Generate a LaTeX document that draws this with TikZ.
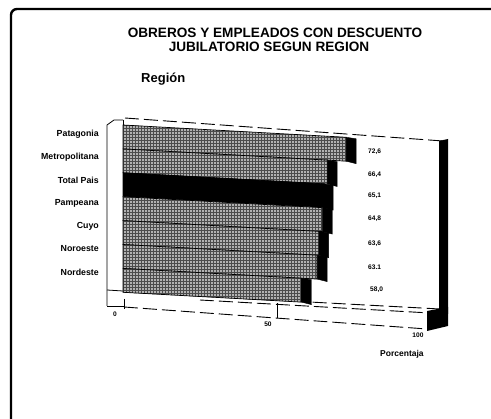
\documentclass[tikz,border=0pt]{standalone}
\usepackage{fontspec}
\setmainfont{Liberation Sans}
\usetikzlibrary{patterns}
\begin{document}
\begin{tikzpicture}[x=1pt,y=-1pt,
  lbl/.style={font=\bfseries\fontsize{8.8}{10}\selectfont, anchor=east, inner sep=0pt},
  val/.style={font=\bfseries\fontsize{6.6}{7}\selectfont, anchor=west, inner sep=0pt},
  axl/.style={font=\bfseries\fontsize{6.6}{7}\selectfont, inner sep=0pt},
  barface/.style={draw=black, line width=0.7pt},
  barside/.style={draw=black, fill=black},
  dsh/.style={dash pattern=on 14pt off 5pt, line width=0.9pt},
  edge/.style={line width=0.8pt}]
\useasboundingbox (0,0) rectangle (491,419);
% frame
\draw[line width=2.4pt, rounded corners=6pt] (11,425) -- (11,9) -- (497,9);
% titles
\node[font=\bfseries\fontsize{13.6}{15}\selectfont, inner sep=0pt] (t1) at (275,32.5) {OBREROS Y EMPLEADOS CON DESCUENTO};
\node[font=\bfseries\fontsize{13.6}{15}\selectfont, inner sep=0pt] (t2) at (269,47) {JUBILATORIO SEGUN REGION};
\node[font=\bfseries\fontsize{13}{15}\selectfont, inner sep=0pt, anchor=west] (reg) at (141,79) {Región};
% back wall top edge and right wall
\draw[dsh] (125,118) -- (443,141);
\fill (439,141) -- (448,139) -- (448,314) -- (439,316) -- cycle;
\fill (427,311) -- (448,307) -- (448,326) -- (427,331) -- cycle;
% left wall
\draw[edge] (107,306) -- (107,125) -- (114,120) -- (123,120);
\draw[edge] (123,120) -- (123,292);
\draw[edge] (107,290) -- (123,291);
\draw[edge] (107,306) -- (125,306);
% floor
\draw[dsh] (123,292) -- (440,309);
\draw[dsh] (200,300) -- (430,313);
\draw[dsh] (124,307) -- (427,329);
% ticks
\draw[edge] (124,299) -- (124,309);
\draw[edge] (277,303) -- (277,318);
% bars
\foreach \v/\c/\pc [count=\i from 0] in {72.6/black!30/black!70, 66.4/black!30/black!70, 65.1/black/black, 64.8/black!30/black!70, 63.6/black!30/black!70, 63.1/black!30/black!70, 58.0/black!30/black!70}{
  \pgfmathsetmacro{\yt}{125+23.9*\i}
  \pgfmathsetmacro{\yb}{\yt+23.9}
  \pgfmathsetmacro{\xr}{124+3.06*\v}
  \pgfmathsetmacro{\dy}{0.055*(\xr-123)}
  \draw[barside] (\xr,\yt+\dy) -- (\xr+10,\yt+\dy+1.5) -- (\xr+10,\yb+\dy+2.5) -- (\xr,\yb+\dy) -- cycle;
  \fill[\c] (123,\yt) -- (\xr,\yt+\dy) -- (\xr,\yb+\dy) -- (123,\yb) -- cycle;
  \fill[pattern=grid, pattern color=\pc] (123,\yt) -- (\xr,\yt+\dy) -- (\xr,\yb+\dy) -- (123,\yb) -- cycle;
  \draw[barface] (123,\yt) -- (\xr,\yt+\dy) -- (\xr,\yb+\dy) -- (123,\yb) -- cycle;
}
% region labels
\foreach \n/\y [count=\i] in {Patagonia/134, Metropolitana/157, Total Pais/180, Pampeana/203, Cuyo/226, Noroeste/249, Nordeste/272}{
  \node[lbl] (r\i) at (99,\y) {\n};
}
% values
\foreach \t/\x/\y [count=\i] in {{72,6}/368/152, {66,4}/368/175, {65,1}/368/196, {64,8}/368/219, {63,6}/368/244, {63.1}/368/267, {58,0}/370/290}{
  \node[val] (v\i) at (\x,\y) {\t};
}
% axis labels
\node[axl] (a0) at (115,314) {0};
\node[axl] (a50) at (268,324) {50};
\node[axl] (a100) at (418,335) {100};
\node[font=\bfseries\fontsize{8.5}{10}\selectfont, inner sep=0pt, anchor=west] (pc) at (380,354) {Porcentaja};
\end{tikzpicture}
\end{document}
